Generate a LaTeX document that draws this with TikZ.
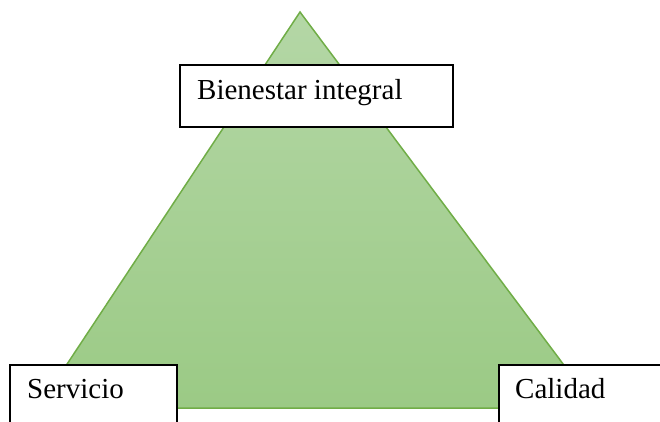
\documentclass[tikz,border=0pt]{standalone}
\usepackage{fontspec}
\setmainfont{Liberation Serif}
\definecolor{edgegreen}{HTML}{70AD47}
\definecolor{topgreen}{HTML}{B4D7A6}
\definecolor{botgreen}{HTML}{9BCA85}
\begin{document}
\begin{tikzpicture}[x=1pt,y=-1pt,
  labelbox/.style={draw=black,line width=2pt,fill=white,anchor=north west,inner sep=0pt},
  labeltext/.style={anchor=base west,inner sep=0pt,font=\fontsize{29}{34}\selectfont}]
\useasboundingbox (0,0) rectangle (660,421);
\clip (0,0) rectangle (660,421);
% triangle
\coordinate (apex) at (300,12);
\coordinate (bl) at (38,408);
\coordinate (br) at (596,408);
\shade[top color=topgreen,bottom color=botgreen] (apex) -- (br) -- (bl) -- cycle;
\draw[edgegreen,line width=1.5pt,line join=miter] (apex) -- (br) -- (bl) -- cycle;
% boxes
\node[labelbox,minimum width=273pt,minimum height=62pt] (topbox) at (179,64) {};
\node[labeltext] (toptext) at (197,99) {Bienestar integral};
\node[labelbox,minimum width=167pt,minimum height=80pt] (leftbox) at (9,364) {};
\node[labeltext] (lefttext) at (27,398) {Servicio};
\node[labelbox,minimum width=180pt,minimum height=80pt] (rightbox) at (498,364) {};
\node[labeltext] (righttext) at (515,398) {Calidad};
\end{tikzpicture}
\end{document}
